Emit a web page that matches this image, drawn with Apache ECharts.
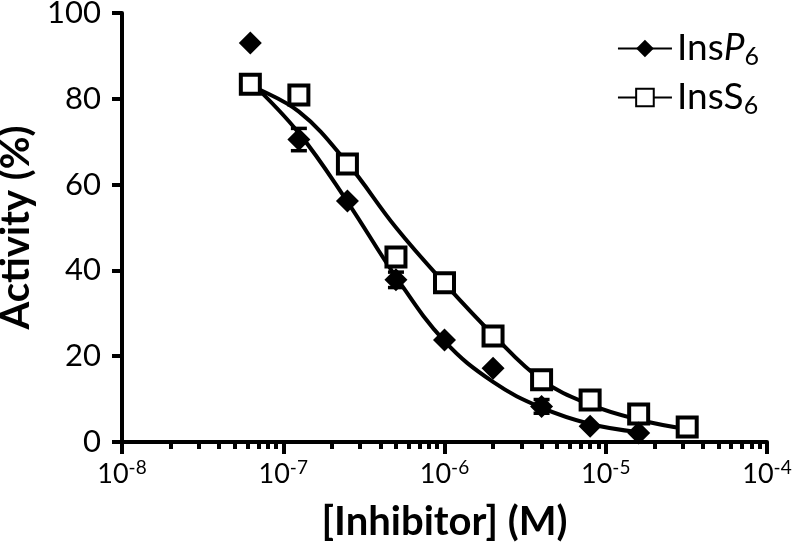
<!DOCTYPE html>
<html>
<head>
<meta charset="utf-8">
<script src="https://cdn.jsdelivr.net/npm/echarts@6/dist/echarts.min.js"></script>
<style>
html,body{margin:0;padding:0;background:#fff;}
#c{width:798px;height:546px;}
</style>
</head>
<body>
<div id="c"></div>
<script>
// concentrations (M)
const conc = [6.25e-8, 1.25e-7, 2.5e-7, 5e-7, 1e-6, 2e-6, 4e-6, 8e-6, 1.6e-5, 3.2e-5];
// InsP6 measured activity (%) and SEM
const p6Values = [93, 70.5, 56.2, 37.8, 23.8, 17.2, 8.3, 3.7, 2.1];
const p6Err    = [0, 2.6, 0, 1.8, 0, 0, 1.6, 0, 0];
// InsS6 measured activity (%)
const s6Values = [83.4, 80.9, 64.8, 43.1, 37.1, 24.7, 14.5, 9.8, 6.5, 3.5];
// fitted curves
const p6Fit = [84, 72, 56, 38.5, 23.5, 14, 8, 4.2, 2.3];
const s6Fit = [83, 77, 65, 50, 37, 25, 14.5, 8.7, 5.2, 3];
const yTicks = [0, 20, 40, 60, 80, 100];
const xDecades = [-8, -7, -6, -5, -4];
const names = ['InsP6', 'InsS6'];

const pair = (xs, ys) => ys.map((v, i) => [xs[i], v]);
const majorTicks = xDecades.map(k => Math.pow(10, k));
// minor tick positions 2..9 x 10^k between the decades
const minorTicks = [];
xDecades.slice(0, -1).forEach(k => { for (let m = 2; m <= 9; m++) minorTicks.push(m * Math.pow(10, k)); });

const font = 'Lato, "Open Sans", sans-serif';
const ink = '#000';
const tickAxisX = (vals, len) => ({
  type: 'log', logBase: 10, min: 1e-8, max: 1e-4, position: 'bottom',
  axisLine: {show: false, onZero: false},
  axisTick: {show: true, inside: false, length: len, customValues: vals, lineStyle: {color: ink, width: 4}},
  axisLabel: {show: false},
  splitLine: {show: false}
});

const chart = echarts.init(document.getElementById('c'));
chart.setOption({
  animation: false,
  backgroundColor: '#fff',
  grid: {left: 122, right: 31, top: 13, bottom: 104, containLabel: false, outerBoundsMode: 'none'},
  legend: {
    data: names,
    right: 34, top: 25,
    orient: 'vertical',
    itemGap: 10,
    itemWidth: 54, itemHeight: 22,
    textStyle: {
      fontFamily: font, fontSize: 37, color: ink,
      rich: {
        n: {fontFamily: font, fontSize: 37, color: ink},
        i: {fontFamily: font, fontSize: 37, fontStyle: 'italic', color: ink},
        sub: {fontFamily: font, fontSize: 25, color: ink, padding: [16, 0, 0, 0]}
      }
    },
    formatter: function (name) {
      if (name === 'InsP6') return '{n|Ins}{i|P}{sub|6}';
      return '{n|InsS}{sub|6}';
    }
  },
  xAxis: [{
    type: 'log', logBase: 10, min: 1e-8, max: 1e-4,
    name: '[Inhibitor] (M)', nameLocation: 'middle', nameGap: 60,
    nameTextStyle: {fontFamily: font, fontSize: 40, fontWeight: 'bold', color: ink},
    axisLine: {show: true, onZero: false, lineStyle: {color: ink, width: 4}},
    axisTick: {show: false},
    minorTick: {show: false},
    splitLine: {show: false},
    axisLabel: {
      margin: 16, color: ink,
      customValues: majorTicks,
      formatter: function (v) {
        const e = Math.round(Math.log10(v));
        return '{b|10}{s|' + e + '}';
      },
      rich: {
        b: {fontFamily: font, fontSize: 27, color: ink},
        s: {fontFamily: font, fontSize: 19, color: ink, padding: [0, 0, 14, 0]}
      }
    }
  }, tickAxisX(minorTicks, 7), tickAxisX(majorTicks, 12)],
  yAxis: [{
    type: 'value', min: 0, max: 100, interval: 20,
    name: 'Activity (%)', nameLocation: 'middle', nameGap: 78,
    nameTextStyle: {fontFamily: font, fontSize: 40, fontWeight: 'bold', color: ink},
    axisLine: {show: true, lineStyle: {color: ink, width: 4}},
    axisTick: {show: false},
    splitLine: {show: false},
    axisLabel: {
      margin: 21, fontFamily: font, fontSize: 31, color: ink,
      formatter: function (v) { return yTicks.indexOf(v) >= 0 ? String(v) : ''; }
    }
  }, {
    type: 'value', min: 0, max: 100, interval: 20, position: 'left',
    axisLine: {show: false},
    axisTick: {show: true, inside: false, length: 10, customValues: yTicks, lineStyle: {color: ink, width: 4}},
    axisLabel: {show: false},
    splitLine: {show: false}
  }],
  series: [
    {
      name: 'InsP6', type: 'line', smooth: 0.4,
      data: pair(conc, p6Fit),
      symbol: 'diamond', symbolSize: 24, showSymbol: false,
      lineStyle: {color: ink, width: 4},
      itemStyle: {color: ink}, z: 3
    },
    {
      name: 'InsS6', type: 'line', smooth: 0.4,
      data: pair(conc, s6Fit),
      symbol: 'rect', symbolSize: 19, showSymbol: false,
      lineStyle: {color: ink, width: 4},
      itemStyle: {color: '#fff', borderColor: ink, borderWidth: 4}, z: 3
    },
    {
      name: 'InsP6 err', type: 'custom', silent: true,
      data: p6Values.map((v, i) => [conc[i], v, p6Err[i]]),
      renderItem: function (params, api) {
        const x = api.value(0), y = api.value(1), e = api.value(2);
        if (!e) return null;
        const top = api.coord([x, y + e]);
        const bot = api.coord([x, y - e]);
        const hw = 8;
        const st = {stroke: ink, lineWidth: 3.5};
        return {type: 'group', children: [
          {type: 'line', shape: {x1: top[0], y1: top[1], x2: bot[0], y2: bot[1]}, style: st},
          {type: 'line', shape: {x1: top[0] - hw, y1: top[1], x2: top[0] + hw, y2: top[1]}, style: st},
          {type: 'line', shape: {x1: bot[0] - hw, y1: bot[1], x2: bot[0] + hw, y2: bot[1]}, style: st}
        ]};
      },
      z: 4
    },
    {
      name: 'InsS6 pts', type: 'scatter',
      data: pair(conc, s6Values),
      symbol: 'rect', symbolSize: 19,
      itemStyle: {color: '#fff', borderColor: ink, borderWidth: 4, opacity: 1},
      z: 5
    },
    {
      name: 'InsP6 pts', type: 'scatter',
      data: pair(conc, p6Values),
      symbol: 'diamond', symbolSize: 23,
      itemStyle: {color: ink, opacity: 1},
      z: 6
    }
  ]
});
</script>
</body>
</html>
